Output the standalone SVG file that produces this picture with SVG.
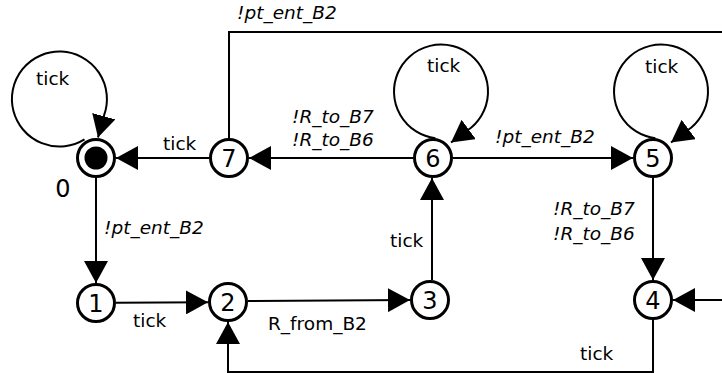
<svg xmlns="http://www.w3.org/2000/svg" width="722" height="373" viewBox="0 0 722 373">
<style>
.edge{fill:none;stroke:#000;stroke-width:2}
.node{fill:#fff;stroke:#000;stroke-width:3}
.num{font-family:"DejaVu Sans",Verdana,sans-serif;font-size:24px;text-anchor:middle;fill:#000}
.lbl{font-family:"DejaVu Sans",Verdana,sans-serif;font-size:18.5px;fill:#000}
.it{font-style:italic}
</style>
<defs>
<marker id="ah" viewBox="0 0 22 24" markerWidth="22" markerHeight="24" refX="22" refY="12" orient="auto" markerUnits="userSpaceOnUse">
<path d="M0,0 L22,12 L0,24 Z" fill="#000"/>
</marker>
</defs>
<rect width="722" height="373" fill="#fff"/>
<g id="connectors">
<path class="edge" d="M84.5,139.4 A47.5,47.5 0 1 1 104.1,115.2 L98,137.5" marker-end="url(#ah)"/>
<path class="edge" d="M435.4,138.2 A47,47 0 1 1 467.3,130.5 L451,142.5" marker-end="url(#ah)"/>
<path class="edge" d="M655.4,138.2 A47,47 0 1 1 687.3,130.5 L671,142.5" marker-end="url(#ah)"/>
<path class="edge" d="M209,158 L116,158" marker-end="url(#ah)"/>
<path class="edge" d="M413,158 L249,158" marker-end="url(#ah)"/>
<path class="edge" d="M453,158 L633,158" marker-end="url(#ah)"/>
<path class="edge" d="M229,138 L229,32 L722,32"/>
<path class="edge" d="M96,178 L96,283" marker-end="url(#ah)"/>
<path class="edge" d="M116,302.7 L208,302.3" marker-end="url(#ah)"/>
<path class="edge" d="M248,301 L410,300" marker-end="url(#ah)"/>
<path class="edge" d="M432,280 L432,178" marker-end="url(#ah)"/>
<path class="edge" d="M653,178 L653,280" marker-end="url(#ah)"/>
<path class="edge" d="M653,320 L653,372 L228,372 L228,322" marker-end="url(#ah)"/>
<path class="edge" d="M722,300 L673,300" marker-end="url(#ah)"/>
</g>
<g id="labels">
<text class="lbl" x="36" y="85">tick</text>
<text class="lbl" x="427" y="72">tick</text>
<text class="lbl" x="645" y="73">tick</text>
<text class="lbl" x="163" y="150">tick</text>
<text class="lbl it" x="292" y="123">!R_to_B7</text>
<text class="lbl it" x="292" y="146">!R_to_B6</text>
<text class="lbl it" x="495" y="143">!pt_ent_B2</text>
<text class="lbl it" x="237" y="19">!pt_ent_B2</text>
<text class="lbl it" x="104" y="234">!pt_ent_B2</text>
<text class="lbl" x="133" y="327">tick</text>
<text class="lbl" x="268" y="330">R_from_B2</text>
<text class="lbl" x="390" y="247">tick</text>
<text class="lbl it" x="553" y="215">!R_to_B7</text>
<text class="lbl it" x="553" y="240">!R_to_B6</text>
<text class="lbl" x="580" y="360">tick</text>
</g>
<g id="node0">
<circle class="node" cx="96" cy="158" r="18.5"/>
<circle cx="96" cy="158" r="11.5" fill="#000"/>
<text class="num" x="63" y="197">0</text>
</g>
<g id="node1"><circle class="node" cx="96" cy="303" r="18.5"/><text class="num" x="96" y="312">1</text></g>
<g id="node2"><circle class="node" cx="228" cy="302" r="18.5"/><text class="num" x="228" y="311">2</text></g>
<g id="node3"><circle class="node" cx="430" cy="300" r="18.5"/><text class="num" x="430" y="309">3</text></g>
<g id="node4"><circle class="node" cx="653" cy="300" r="18.5"/><text class="num" x="653" y="309">4</text></g>
<g id="node5"><circle class="node" cx="653" cy="158" r="18.5"/><text class="num" x="653" y="167">5</text></g>
<g id="node6"><circle class="node" cx="433" cy="158" r="18.5"/><text class="num" x="433" y="167">6</text></g>
<g id="node7"><circle class="node" cx="229" cy="158" r="18.5"/><text class="num" x="229" y="167">7</text></g>
</svg>
